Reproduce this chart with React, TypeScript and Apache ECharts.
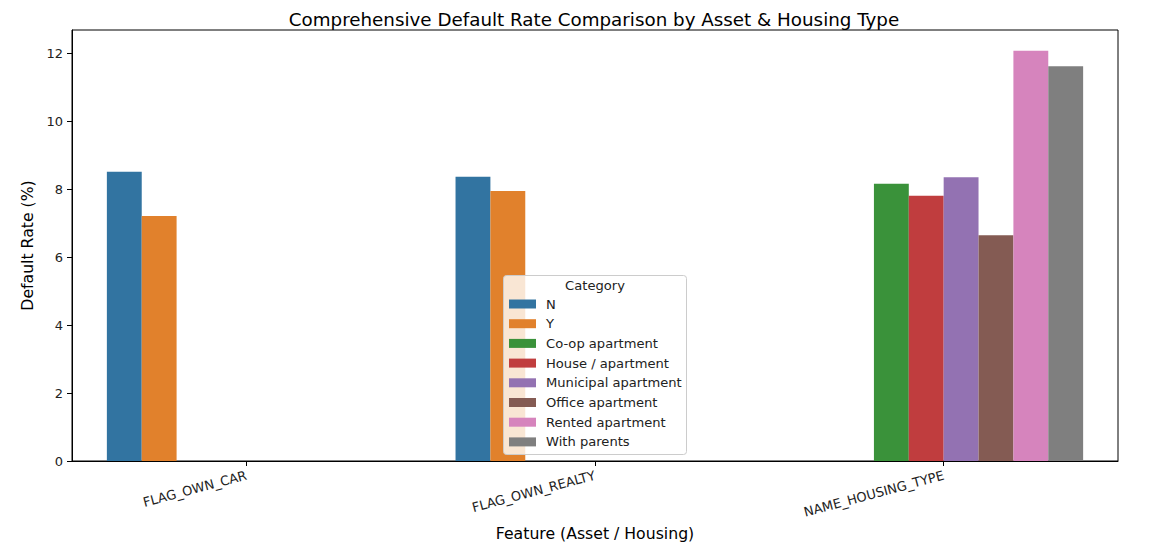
import React, { useEffect, useRef } from "react";
import * as echarts from "echarts";

const categories = ["FLAG_OWN_CAR", "FLAG_OWN_REALTY", "NAME_HOUSING_TYPE"];
const hueNames = [
  "N",
  "Y",
  "Co-op apartment",
  "House / apartment",
  "Municipal apartment",
  "Office apartment",
  "Rented apartment",
  "With parents",
];
const valuesN = [8.51, 8.36, null];
const valuesY = [7.21, 7.94, null];
const valuesCoop = [null, null, 8.16];
const valuesHouse = [null, null, 7.8];
const valuesMunicipal = [null, null, 8.35];
const valuesOffice = [null, null, 6.64];
const valuesRented = [null, null, 12.07];
const valuesParents = [null, null, 11.61];
const seriesValues = [
  valuesN,
  valuesY,
  valuesCoop,
  valuesHouse,
  valuesMunicipal,
  valuesOffice,
  valuesRented,
  valuesParents,
];
const hueColors = [
  "#3274a1",
  "#e1812c",
  "#3a923a",
  "#c03d3e",
  "#9372b2",
  "#845b53",
  "#d684bd",
  "#7f7f7f",
];
const yTicks = [0, 2, 4, 6, 8, 10, 12];

const FONT = "DejaVu Sans";

export default function App() {
  const ref = useRef<HTMLDivElement>(null);
  useEffect(() => {
    if (!ref.current) return;
    const chart = echarts.init(ref.current, null, { renderer: "svg" });
    chart.setOption({
      animation: false,
      backgroundColor: "#ffffff",
      title: {
        text: "Comprehensive Default Rate Comparison by Asset & Housing Type",
        left: 589,
        textAlign: "center",
        top: 5,
        textStyle: { fontFamily: FONT, fontSize: 18.3, fontWeight: "normal", color: "#000" },
      },
      grid: {
        left: 72,
        top: 30,
        right: 54,
        bottom: 88,
        show: true,
        borderColor: "#000",
        borderWidth: 1,
        backgroundColor: "transparent",
      },
      xAxis: {
        type: "category",
        data: categories,
        name: "Feature (Asset / Housing)",
        nameLocation: "middle",
        nameGap: 64,
        nameTextStyle: { fontFamily: FONT, fontSize: 15.7, color: "#000" },
        axisLine: { show: true, lineStyle: { color: "#000", width: 1 } },
        axisTick: { show: true, alignWithLabel: true, length: 5, lineStyle: { color: "#000" } },
        axisLabel: {
          rotate: 15,
          interval: 0,
          margin: 14,
          fontFamily: FONT,
          fontSize: 13,
          color: "#222",
        },
        splitLine: { show: false },
      },
      yAxis: {
        type: "value",
        min: 0,
        max: 12.68,
        interval: 2,
        name: "Default Rate (%)",
        nameLocation: "middle",
        nameGap: 32,
        nameTextStyle: { fontFamily: FONT, fontSize: 15.7, color: "#000" },
        axisLine: { show: true, lineStyle: { color: "#000", width: 1 } },
        axisTick: { show: true, length: 5, customValues: yTicks, lineStyle: { color: "#000" } },
        axisLabel: {
          margin: 9,
          fontFamily: FONT,
          fontSize: 13,
          color: "#222",
          customValues: yTicks,
        },
        splitLine: { show: false },
      },
      legend: {
        orient: "vertical",
        left: 509,
        top: 297,
        padding: 0,
        itemWidth: 27,
        itemHeight: 9,
        itemGap: 5.7,
        icon: "rect",
        data: hueNames,
        textStyle: {
          fontFamily: FONT,
          fontSize: 13.1,
          color: "#222",
          lineHeight: 14,
          padding: [0, 0, 0, 5],
        },
        z: 5,
      },
      graphic: [
        {
          type: "rect",
          z: 3,
          shape: { x: 503.5, y: 275.5, width: 183, height: 179, r: 3 },
          style: { fill: "rgba(255,255,255,0.8)", stroke: "#cccccc", lineWidth: 1 },
        },
        {
          type: "text",
          z: 5,
          x: 595,
          y: 285,
          style: {
            text: "Category",
            fontFamily: FONT,
            fontSize: 13.1,
            fill: "#222",
            textAlign: "center",
            textVerticalAlign: "middle",
          },
        },
      ],
      series: hueNames.map((name, i) => ({
        name,
        type: "bar",
        data: seriesValues[i],
        barGap: "0%",
        barCategoryGap: "20%",
        itemStyle: { color: hueColors[i] },
        z: 2,
      })),
    });
    return () => chart.dispose();
  }, []);
  return (
    <div
      ref={ref}
      style={{ position: "fixed", left: 0, top: 0, width: 1172, height: 549 }}
    />
  );
}
